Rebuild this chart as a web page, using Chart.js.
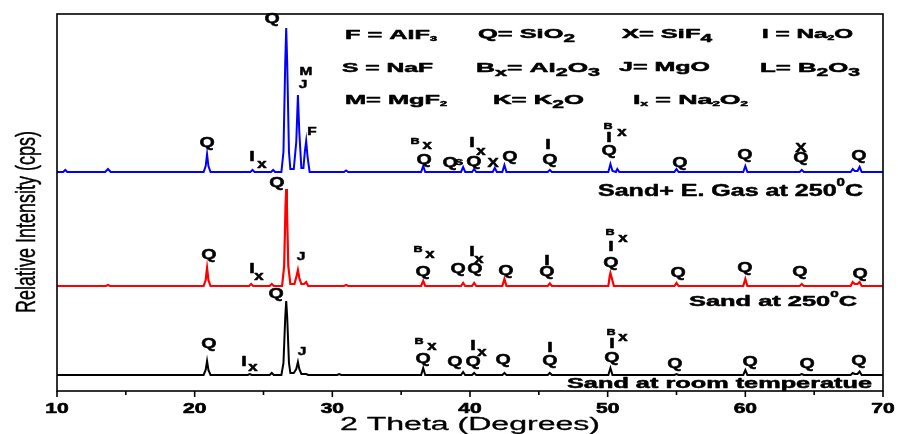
<!DOCTYPE html>
<html lang="en">
<head>
<meta charset="UTF-8">
<title>XRD patterns of sand</title>
<script src="https://cdn.jsdelivr.net/npm/chart.js"></script>
<style>
  html, body { margin: 0; padding: 0; background: #fff; }
  #wrap { width: 898px; height: 434px; }
</style>
</head>
<body>
<div id="wrap"><canvas id="xrdChart" width="898" height="434"></canvas></div>
<script>
// 2-theta axis
const xMin = 10, xMax = 70;
const majorTicks = [10, 20, 30, 40, 50, 60, 70];
const minorTicks = [15, 25, 35, 45, 55, 65];
const yMax = 377; // relative intensity, arbitrary units

// vertical offsets of the stacked patterns
const offsetRoom = 16, offsetSand250 = 105, offsetGas250 = 219;

// [2theta, intensity above baseline]
const gas250 = [
  [10,0],[10.45,0],[10.6,2],[10.75,0],[13.5,0],[13.7,3],[13.9,0],
  [20.65,0],[20.8,6],[20.9,18],[21.0,6],[21.15,0],[24.05,0],[24.2,2],[24.35,0],
  [25.55,0],[25.7,2],[25.85,0],[26.3,0],[26.45,20],[26.58,110],[26.65,144],[26.72,110],
  [26.85,20],[26.95,3],[27.2,3],[27.38,30],[27.5,77],[27.6,40],[27.75,4],[27.9,4],
  [28.0,20],[28.1,31],[28.2,15],[28.35,0],[30.85,0],[31.0,1.5],[31.15,0],
  [36.45,0],[36.6,6],[36.75,0],[39.35,0],[39.5,5],[39.65,0],[40.15,0],[40.3,3],[40.45,0],
  [41.65,0],[41.8,4],[41.95,0],[42.35,0],[42.5,7],[42.65,0],[45.65,0],[45.8,2],[45.95,0],
  [50.05,0],[50.2,8],[50.35,1],[50.6,0],[50.7,3],[50.85,0],[54.85,0],[55.0,3],[55.15,0],
  [59.85,0],[60.0,6],[60.15,0],[63.95,0],[64.1,2],[64.25,0],
  [67.65,0],[67.8,3],[67.95,1],[68.15,1],[68.3,5],[68.45,0],[70,0]
];
const sand250 = [
  [10,0],[13.55,0],[13.7,1],[13.85,0],[20.65,0],[20.8,6],[20.9,18],[21.0,6],[21.15,0],
  [23.95,0],[24.1,2],[24.25,0],[25.45,0],[25.6,2],[25.75,0],[26.35,0],[26.5,20],
  [26.6,80],[26.65,97],[26.7,80],[26.8,20],[26.95,2],[27.25,2],[27.4,10],[27.5,16],
  [27.6,8],[27.75,2],[27.95,2],[28.1,4],[28.25,0],[30.85,0],[31.0,1],[31.15,0],
  [36.45,0],[36.6,5],[36.75,0],[39.35,0],[39.5,3],[39.65,0],[40.15,0],[40.3,3],[40.45,0],
  [42.35,0],[42.5,7],[42.65,0],[45.65,0],[45.8,2.5],[45.95,0],
  [50.05,0],[50.15,10],[50.2,13],[50.3,8],[50.45,0],[54.85,0],[55.0,3],[55.15,0],
  [59.85,0],[60.0,7],[60.15,0],[63.95,0],[64.1,2],[64.25,0],
  [67.65,0],[67.8,4],[67.95,2],[68.15,2],[68.3,4],[68.45,0],[70,0]
];
const sandRoom = [
  [10,0],[20.65,0],[20.8,5],[20.9,14],[21.0,5],[21.15,0],[23.85,0],[24.0,1],[24.15,0],
  [25.45,0],[25.6,2],[25.75,0],[26.3,0],[26.45,12],[26.58,58],[26.65,74],[26.72,58],
  [26.85,12],[26.95,2],[27.2,2],[27.38,6],[27.5,13],[27.6,6],[27.75,1],[28.1,1],[28.25,0],
  [30.35,0],[30.5,1],[30.65,0],[36.45,0],[36.6,7],[36.75,0],[39.35,0],[39.5,3],[39.65,0],
  [40.15,0],[40.3,2],[40.45,0],[42.35,0],[42.5,2],[42.65,0],[45.65,0],[45.8,2],[45.95,0],
  [50.05,0],[50.2,7],[50.35,0],[54.85,0],[55.0,1],[55.15,0],[59.85,0],[60.0,5],[60.15,0],
  [63.95,0],[64.1,1],[64.25,0],[67.65,0],[67.8,2],[67.95,1],[68.15,1],[68.3,3.5],[68.45,0],[70,0]
];

// phase marks: [text, 2theta, y, size class]  L = letter, S = small letter, X = subscript x, B = tiny B
const gasLabels = [
  ['Q',25.62,372,'L'],['M',28.09,319,'S'],['J',27.87,306,'S'],['F',28.52,259,'S'],
  ['Q',20.9,248,'L'],['I',24.16,234,'L'],['x',24.89,226,'X'],
  ['B',36.0,249,'B'],['x',36.88,245,'X'],['Q',36.66,231,'L'],
  ['Q',38.55,228,'L'],['s',39.2,229,'S'],
  ['I',40.14,248,'L'],['x',40.8,239,'X'],['Q',40.29,229,'L'],
  ['X',41.67,227,'M'],['Q',42.9,234,'L'],
  ['I',45.67,246,'L'],['Q',45.81,231,'L'],
  ['B',50.02,264,'B'],['x',51.04,258,'X'],['I',50.1,253,'L'],['Q',50.1,240,'L'],
  ['Q',55.25,228,'L'],['Q',59.97,236,'L'],['X',64.04,242,'M'],['Q',64.04,233,'L'],['Q',68.25,235,'L']
];
const sand250Labels = [
  ['Q',25.98,208,'L'],['Q',21.04,136,'L'],['I',24.16,122,'L'],['x',24.67,114,'X'],['J',27.72,134,'S'],
  ['B',36.22,141,'B'],['x',37.09,136,'X'],['Q',36.59,119,'L'],
  ['Q',39.13,122,'L'],['I',40.14,139,'L'],['x',40.65,131,'X'],['Q',40.36,122,'L'],
  ['Q',42.61,120,'L'],['I',45.59,130,'L'],['Q',45.59,119,'L'],
  ['B',50.17,158,'B'],['x',51.11,152,'X'],['I',50.24,144,'L'],['Q',50.24,128,'L'],
  ['Q',55.11,118,'L'],['Q',59.97,123,'L'],['Q',63.97,119,'L'],['Q',68.33,117,'L']
];
const roomLabels = [
  ['Q',25.91,97,'L'],['Q',21.04,47,'L'],['I',23.58,29,'L'],['x',24.24,23,'X'],['J',27.8,39,'S'],
  ['B',36.29,49,'B'],['x',37.24,44,'X'],['Q',36.59,32,'L'],
  ['Q',38.91,29,'L'],['I',40.22,45,'L'],['x',40.87,38,'X'],['Q',40.22,29,'L'],
  ['Q',42.4,31,'L'],['I',45.81,43,'L'],['Q',45.81,30,'L'],
  ['B',50.24,58,'B'],['x',51.11,53,'X'],['I',50.31,47,'L'],['Q',50.31,33,'L'],
  ['Q',54.89,27,'L'],['Q',60.34,29,'L'],['Q',64.48,27,'L'],['Q',68.25,30,'L']
];

const FONT = '"Liberation Sans", Arial, sans-serif';

// tiny rich text: _{..} subscript, ~{..} small subscript, ^{..} superscript
function parseRich(str) {
  const out = [];
  const re = /([_~^])\{([^}]*)\}/g;
  let last = 0, m;
  while ((m = re.exec(str))) {
    if (m.index > last) out.push({ t: str.slice(last, m.index), k: 'n' });
    out.push({ t: m[2], k: m[1] });
    last = re.lastIndex;
  }
  if (last < str.length) out.push({ t: str.slice(last), k: 'n' });
  return out;
}
const KIND = { n: [1, 0], _: [0.82, 0.3], '~': [0.5, 0.15], '^': [0.6, -0.6] };

function drawRich(ctx, str, x, y, size, o) {
  o = o || {};
  const weight = o.weight || 'bold';
  const parts = parseRich(str);
  let w = 0;
  parts.forEach(p => {
    ctx.font = weight + ' ' + (size * KIND[p.k][0]) + 'px ' + FONT;
    p.w = ctx.measureText(p.t).width;
    w += p.w;
  });
  const sx = o.width ? o.width / w : (o.sx || 1);
  ctx.save();
  ctx.translate(x, y);
  ctx.scale(sx, 1);
  ctx.textAlign = 'left';
  ctx.textBaseline = o.baseline || 'alphabetic';
  ctx.lineWidth = o.heavy || 0;
  ctx.lineJoin = 'round';
  let cx = o.align === 'right' ? -w : o.align === 'center' ? -w / 2 : 0;
  parts.forEach(p => {
    ctx.font = weight + ' ' + (size * KIND[p.k][0]) + 'px ' + FONT;
    ctx.fillText(p.t, cx, KIND[p.k][1] * size);
    if (o.heavy) ctx.strokeText(p.t, cx, KIND[p.k][1] * size);
    cx += p.w;
  });
  ctx.restore();
}

const labelSize = { L: 14, M: 12, S: 11, X: 12, B: 9 };

const decor = {
  id: 'decor',
  afterDatasetsDraw(chart) {
    const ctx = chart.ctx, a = chart.chartArea;
    const xs = chart.scales.x, ys = chart.scales.y;
    ctx.save();
    ctx.fillStyle = '#000';
    ctx.strokeStyle = '#000';

    // phase marks
    [gasLabels, sand250Labels, roomLabels].forEach(list => {
      list.forEach(([t, th, v, k]) => {
        drawRich(ctx, t, xs.getPixelForValue(th), ys.getPixelForValue(v), labelSize[k],
          { align: 'center', baseline: 'middle', sx: 1.4, heavy: 0.5 });
      });
    });

    // frame
    ctx.lineWidth = 1.6;
    ctx.strokeRect(a.left, a.top, a.right - a.left, a.bottom - a.top);

    // ticks
    majorTicks.forEach(v => {
      const px = xs.getPixelForValue(v);
      ctx.lineWidth = 1.6;
      ctx.beginPath(); ctx.moveTo(px, a.bottom); ctx.lineTo(px, a.bottom + 6); ctx.stroke();
      drawRich(ctx, String(v), px, 413, 14, { align: 'center', sx: 1.5, heavy: 0.6 });
    });
    minorTicks.forEach(v => {
      const px = xs.getPixelForValue(v);
      ctx.lineWidth = 1.6;
      ctx.beginPath(); ctx.moveTo(px, a.bottom); ctx.lineTo(px, a.bottom + 4); ctx.stroke();
    });

    // axis titles
    drawRich(ctx, '2 Theta (Degrees)', 470, 430, 18, { weight: 'normal', align: 'center', width: 260, heavy: 0.3 });
    ctx.save();
    ctx.translate(27, 222);
    ctx.rotate(-Math.PI / 2);
    ctx.scale(1, 1.55);
    drawRich(ctx, 'Relative Intensity (cps)', 0, 0, 18, { weight: 'normal', align: 'center', baseline: 'middle', width: 182, heavy: 0.3 });
    ctx.restore();

    // key of phases
    const key = [
      ['F = AlF~{3}', 345, 39, 92], ['Q= SiO_{2}', 478, 38, 97], ['X= SiF_{4}', 622, 38, 90], ['I = Na~{2}O', 762, 38, 91],
      ['S = NaF', 342, 72, 91], ['B_{x}= Al_{2}O_{3}', 476, 72, 124], ['J= MgO', 619, 71, 91], ['L= B_{2}O_{3}', 760, 72, 100],
      ['M= MgF~{2}', 345, 104, 102], ['K= K_{2}O', 493, 104, 91], ['I~{x} = Na~{2}O~{2}', 633, 104, 115]
    ];
    key.forEach(([t, x, y, w]) => drawRich(ctx, t, x, y, 13, { width: w, heavy: 0.5 }));

    // pattern names
    drawRich(ctx, 'Sand+ E. Gas at 250^{0}C', 863, 196, 17, { align: 'right', width: 265, heavy: 0.5 });
    drawRich(ctx, 'Sand at 250^{0}C', 857, 306, 15, { align: 'right', width: 168, heavy: 0.5 });
    drawRich(ctx, 'Sand at room temperatue', 872, 388, 14, { align: 'right', width: 305, heavy: 0.5 });
    ctx.restore();
  }
};

const withOffset = (arr, off) => arr.map(([x, y]) => ({ x: x, y: y + off }));

new Chart(document.getElementById('xrdChart'), {
  type: 'line',
  data: {
    datasets: [
      { label: 'Sand at room temperatue', data: withOffset(sandRoom, offsetRoom), borderColor: '#000000', borderWidth: 2 },
      { label: 'Sand at 250°C', data: withOffset(sand250, offsetSand250), borderColor: '#ff0000', borderWidth: 2.2 },
      { label: 'Sand+ E. Gas at 250°C', data: withOffset(gas250, offsetGas250), borderColor: '#0000ff', borderWidth: 2 }
    ]
  },
  options: {
    responsive: false,
    animation: false,
    elements: { point: { radius: 0 }, line: { tension: 0 } },
    layout: { padding: { left: 57, right: 15, top: 14, bottom: 43 } },
    plugins: { legend: { display: false }, tooltip: { enabled: false } },
    scales: {
      x: { type: 'linear', min: xMin, max: xMax, display: false },
      y: { type: 'linear', min: 0, max: yMax, display: false }
    }
  },
  plugins: [decor]
});
</script>
</body>
</html>
